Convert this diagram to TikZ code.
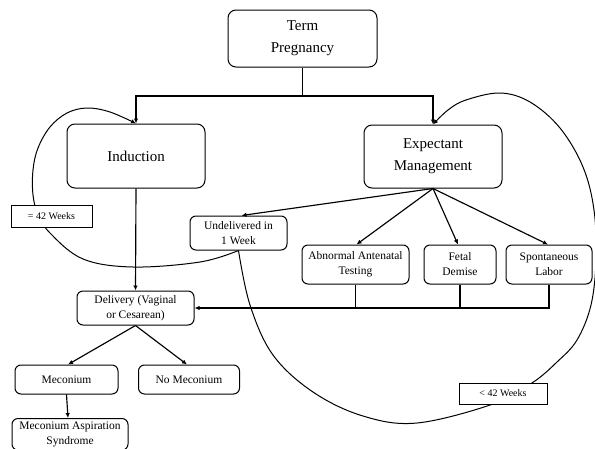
\documentclass[tikz,border=0pt]{standalone}
\usepackage{fontspec}
\setmainfont{Liberation Serif}
\usetikzlibrary{arrows.meta}
\begin{document}
\begin{tikzpicture}[x=1pt,y=-1pt,
  box/.style={draw, rounded corners=6pt, line width=1pt, align=center, inner sep=0pt, fill=white},
  bigbox/.style={box, rounded corners=8pt, font=\fontsize{15}{22}\selectfont},
  smallbox/.style={box, font=\fontsize{11.5}{15}\selectfont},
  tag/.style={draw, line width=1pt, fill=white, inner sep=0pt, font=\fontsize{10}{12}\selectfont},
  conn/.style={line width=1.15pt},
  arr/.style={conn, -{Latex[length=5pt,width=4.5pt]}},
  curv/.style={arr, line width=1pt}
]
\useasboundingbox (0,0) rectangle (595,448);
% main boxes
\node[bigbox, minimum width=149pt, minimum height=57pt] (term) at (302.5,38.5) {Term\\Pregnancy};
\node[bigbox, minimum width=138pt, minimum height=64pt] (ind) at (136,156) {Induction};
\node[bigbox, minimum width=138pt, minimum height=63pt] (exp) at (433,156.5) {Expectant\\Management};
\node[smallbox, minimum width=97pt, minimum height=34pt] (und) at (238.5,233) {Undelivered in\\1 Week};
\node[smallbox, minimum width=107pt, minimum height=39pt] (abn) at (355.5,264.5) {Abnormal Antenatal\\Testing};
\node[smallbox, minimum width=72pt, minimum height=39pt] (fet) at (460,264.5) {Fetal\\Demise};
\node[smallbox, minimum width=86pt, minimum height=39pt] (spo) at (549,264.5) {Spontaneous\\Labor};
\node[smallbox, minimum width=117pt, minimum height=34pt] (del) at (135.5,308) {Delivery (Vaginal\\or Cesarean)};
\node[smallbox, minimum width=103pt, minimum height=29pt] (mec) at (66.5,379.5) {Meconium};
\node[smallbox, minimum width=101pt, minimum height=29pt] (nomec) at (189,379.5) {No Meconium};
\node[smallbox, minimum width=116pt, inner ysep=3.5pt, anchor=north, font=\fontsize{11.5}{14.5}\selectfont] (mas) at (70,418) {Meconium Aspiration\\Syndrome};
% top split
\coordinate (j) at (302.5,96);
\draw[conn] (term.south) -- (j);
\draw[arr] (j) -| (ind.north);
\draw[arr] (j) -| (exp.north);
% induction to delivery
\draw[arr] (ind.south) -- (del.north);
% expectant branches
\draw[arr] (exp.south) -- ([xshift=3pt]und.north);
\draw[arr] (exp.south) -- ([xshift=1pt]abn.north);
\draw[arr] (exp.south) -- ([xshift=-2pt]fet.north);
\draw[arr] (exp.south) -- ([xshift=-1pt]spo.north);
% back to delivery
\draw[arr] (spo.south) |- (del.east);
\draw[conn] (abn.south) -- (abn.south |- del.east);
\draw[conn] (fet.south) -- (fet.south |- del.east);
% delivery outcomes
\draw[arr] (del.south) -- ([xshift=1.5pt]mec.north);
\draw[arr] (del.south) -- ([xshift=-2pt]nomec.north);
\draw[arr] (mec.south) -- ([xshift=-2pt]mas.north);
% loops
\draw[curv] plot[smooth, tension=0.6] coordinates {(und.south) (200,262) (133,267) (83,259) (50,233) (38,214) (33,195) (33,170) (38,148) (50,127) (67,113) (87,108) (110,112) (ind.north)};
\draw[curv] plot[smooth, tension=0.6] coordinates {(und.south) (250,305) (273,355) (313,392) (363,416) (417,423) (493,404) (532,383) (557,362) (577,340) (591,305) (596,260) (594,210) (583,167) (560,128) (530,102) (500,93) (466,100) (448,110) (exp.north)};
% labels
\node[tag, minimum width=81pt, minimum height=22pt] (ge) at (51.5,216) {= 42 Weeks};
\node[tag, minimum width=88pt, minimum height=21pt] (lt) at (503,393.5) {< 42 Weeks};
\end{tikzpicture}
\end{document}
